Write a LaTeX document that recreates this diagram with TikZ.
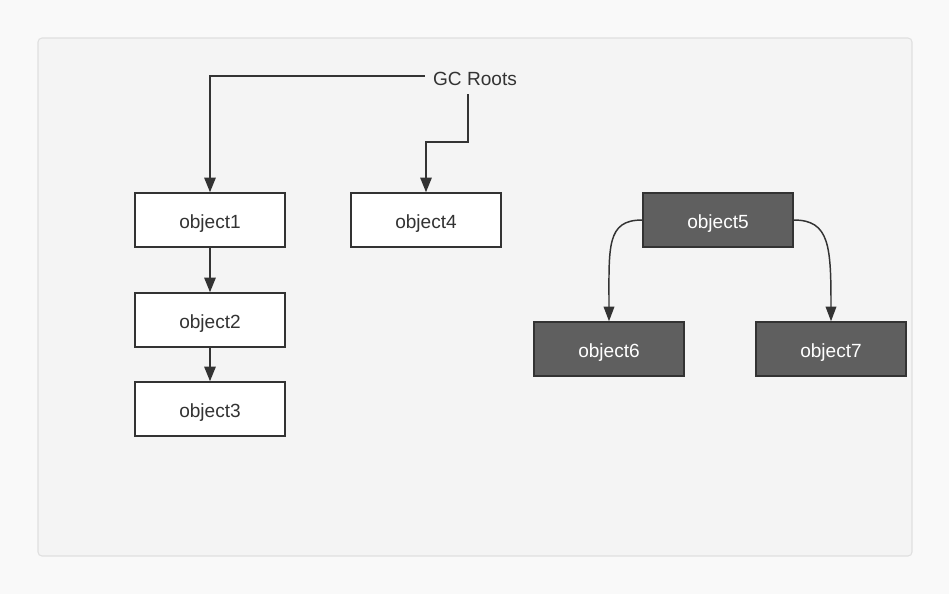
\documentclass[tikz,border=0pt]{standalone}
\usepackage{fontspec}
\setmainfont{Liberation Sans}
\usetikzlibrary{arrows.meta,calc}
\definecolor{pagebg}{HTML}{F9F9F9}
\definecolor{panelbg}{HTML}{F4F4F4}
\definecolor{panelline}{HTML}{E0E0E0}
\definecolor{ink}{HTML}{333333}
\definecolor{darkbox}{HTML}{5F5F5F}
\begin{document}
\begin{tikzpicture}[x=0.75pt,y=-0.75pt,
  objbox/.style={draw=ink,line width=1.1pt,fill=white,minimum width=112.5pt,minimum height=40.5pt,inner sep=0pt,text height=13pt,text depth=0pt,font=\fontsize{14.3}{16}\selectfont,text=ink},
  darkobj/.style={objbox,fill=darkbox,text=white},
  arr/.style={draw=ink,line width=1.4pt,-{Triangle[length=11pt,width=8.5pt]}},
  carr/.style={draw=ink,line width=1.1pt,-{Triangle[length=11pt,width=8pt]}}
]
\useasboundingbox (0,0) rectangle (949,594);
\fill[pagebg] (0,0) rectangle (949,594);
\draw[panelline,fill=panelbg,line width=0.8pt,rounded corners=3pt] (38,38) rectangle (912,556);

\node[font=\fontsize{14.3}{16}\selectfont,text=ink,inner sep=6pt] (gc) at (475,79) {GC Roots};
\node[objbox] (o1) at (210,220) {object1};
\node[objbox] (o4) at (426,220) {object4};
\node[objbox] (o2) at (210,320) {object2};
\node[objbox] (o3) at (210,409) {object3};
\node[darkobj] (o5) at (718,220) {object5};
\node[darkobj] (o6) at (609,349) {object6};
\node[darkobj] (o7) at (831,349) {object7};

\coordinate (gcs) at ($(gc.south)+(-7,0)$);
\draw[arr] (gc.west |- 0,76) -| (o1.north);
\draw[arr] (gcs) -- ++(0,48) -| (o4.north);
\draw[arr] (o1) -- (o2);
\draw[arr] (o2) -- (o3);
\draw[carr] (o5.west) .. controls +(-36,0) and +(0,-75) .. (o6.north);
\draw[carr] (o5.east) .. controls +(36,0) and +(0,-75) .. (o7.north);
\end{tikzpicture}
\end{document}
